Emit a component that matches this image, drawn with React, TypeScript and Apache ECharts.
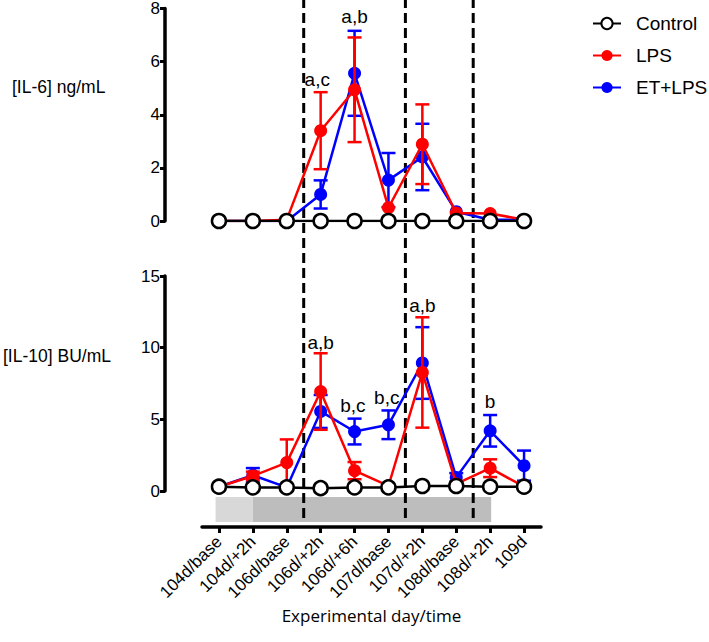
import React, { useEffect, useRef } from "react";
import * as echarts from "echarts";

const categories = ["104d/base", "104d/+2h", "106d/base", "106d/+2h", "106d/+6h", "107d/base", "107d/+2h", "108d/base", "108d/+2h", "109d"];

// IL-6 panel (ng/mL)
const il6Control = [0, 0, 0, 0, 0, 0, 0, 0, 0, 0];
const il6LPS = [0, 0, 0.05, 3.4, 4.94, 0.5, 2.89, 0.3, 0.28, 0.05];
const il6LPSErr = [0, 0, 0, 1.45, 1.97, 0, 1.5, 0, 0, 0];
const il6ET = [0, 0, 0, 1.0, 5.56, 1.54, 2.41, 0.35, 0.05, 0.05];
const il6ETErr = [0, 0, 0, 0.53, 1.6, 1.02, 1.25, 0, 0, 0];

// IL-10 panel (BU/mL)
const il10Control = [0.3, 0.25, 0.25, 0.2, 0.25, 0.25, 0.35, 0.35, 0.3, 0.3];
const il10LPS = [0.3, 1.05, 1.98, 6.94, 1.42, 0.35, 8.27, 0.5, 1.59, 0.3];
const il10LPSErr = [0, 0.3, 1.62, 2.67, 0.6, 0, 3.85, 0, 0.62, 0];
const il10ET = [0.3, 1.1, 0.25, 5.55, 4.15, 4.62, 8.93, 0.95, 4.2, 1.77];
const il10ETErr = [0, 0.5, 0, 1.15, 0.9, 1.0, 2.5, 0.3, 1.1, 1.05];

// significance annotations: [category index, value at text centre, text]
const il6Notes: [number, number, string][] = [
  [2.9, 5.32, "a,c"],
  [4, 7.69, "a,b"],
];
const il10Notes: [number, number, string][] = [
  [3, 10.35, "a,b"],
  [3.95, 6.0, "b,c"],
  [4.95, 6.5, "b,c"],
  [6, 12.94, "a,b"],
  [8, 6.22, "b"],
];

// dashed separators (between categories), in category units
const dividers = [2.5, 5.5, 7.5];
const dividerTop = 34.4; // IL-10 units (top of page)
const dividerBottom = -2.2;

// treatment bands below the IL-10 panel: [start, end, shade]
const bands: [number, number, number][] = [
  [-0.1, 1, 0],
  [1, 8.03, 1],
];
const bandTop = -0.42;
const bandBottom = -2.17;
const bandColors = ["#d8d8d8", "#bdbdbd"];

const il6Ticks = { min: 0, max: 8, interval: 2 };
const il10Ticks = { min: 0, max: 15, interval: 5 };

const RED = "#ff0000";
const BLUE = "#0000ff";
const FONT = "Liberation Sans";

function errorSeries(name: string, vals: number[], errs: number[], color: string, gi: number) {
  const data = vals
    .map((v, i) => [i, v - errs[i], v + errs[i], errs[i]])
    .filter((d) => d[3] > 0);
  return {
    type: "custom",
    name: name + "-err",
    xAxisIndex: gi,
    yAxisIndex: gi,
    data,
    silent: true,
    z: 3,
    renderItem: (params: any, api: any) => {
      const x = api.value(0);
      const lo = api.coord([x, api.value(1)]);
      const hi = api.coord([x, api.value(2)]);
      const w = 7;
      const style = { stroke: color, lineWidth: 2.5 };
      return {
        type: "group",
        children: [
          { type: "line", shape: { x1: hi[0], y1: hi[1], x2: lo[0], y2: lo[1] }, style },
          { type: "line", shape: { x1: hi[0] - w, y1: hi[1], x2: hi[0] + w, y2: hi[1] }, style },
          { type: "line", shape: { x1: lo[0] - w, y1: lo[1], x2: lo[0] + w, y2: lo[1] }, style },
        ],
      };
    },
  };
}

function lineSeries(name: string, vals: number[], color: string, gi: number, z: number) {
  const isControl = name === "Control";
  return {
    type: "line",
    name,
    xAxisIndex: gi,
    yAxisIndex: gi,
    data: vals,
    symbol: "circle",
    symbolSize: isControl ? 14 : 13,
    z,
    lineStyle: { color, width: 2.5 },
    itemStyle: isControl
      ? { color: "#ffffff", borderColor: "#000000", borderWidth: 2.5 }
      : { color, borderWidth: 0 },
    emphasis: { disabled: true },
  };
}

function noteSeries(notes: [number, number, string][], gi: number) {
  return {
    type: "scatter",
    xAxisIndex: gi === 0 ? 3 : 2,
    yAxisIndex: gi,
    symbolSize: 0,
    silent: true,
    z: 6,
    itemStyle: { opacity: 1 },
    data: notes.map((n) => ({ value: [n[0], n[1]], name: n[2] })),
    label: {
      show: true,
      position: "inside",
      formatter: (p: any) => p.name,
      color: "#000",
      opacity: 1,
      textBorderWidth: 0,
      fontSize: 19,
      fontFamily: FONT,
    },
  };
}

function yAxisCfg(gi: number, ticks: { min: number; max: number; interval: number }) {
  return {
    type: "value",
    gridIndex: gi,
    min: ticks.min,
    max: ticks.max,
    interval: ticks.interval,
    offset: 37,
    axisLine: { show: true, onZero: false, lineStyle: { color: "#000", width: 3.5 } },
    axisTick: { show: true, length: 5, lineStyle: { color: "#000", width: 3 } },
    axisLabel: { color: "#000", fontSize: 17, fontFamily: FONT, margin: 5 },
    splitLine: { show: false },
  };
}

export default function App() {
  const ref = useRef<HTMLDivElement>(null);
  useEffect(() => {
    if (!ref.current) return;
    const chart = echarts.init(ref.current, undefined, { renderer: "svg" });
    const option: any = {
      animation: false,
      backgroundColor: "#ffffff",
      legend: {
        orient: "vertical",
        left: 587,
        top: 9,
        itemWidth: 28,
        itemHeight: 14,
        itemGap: 13,
        data: ["Control", "LPS", "ET+LPS"],
        textStyle: { color: "#000", fontSize: 19, fontFamily: FONT, padding: [0, 0, 0, 10] },
        selectedMode: false,
      },
      grid: [
        { left: 202, width: 339, top: 8, height: 213 },
        { left: 202, width: 339, top: 276, height: 215 },
      ],
      xAxis: [
        {
          type: "category",
          gridIndex: 0,
          data: categories,
          axisLine: { show: false, onZero: false },
          axisTick: { show: false },
          axisLabel: { show: false },
          splitLine: { show: false },
        },
        {
          type: "category",
          gridIndex: 1,
          data: categories,
          offset: 36,
          axisLine: { show: true, onZero: false, lineStyle: { color: "#000", width: 3.5 } },
          axisTick: { show: true, alignWithLabel: true, length: 6, lineStyle: { color: "#000", width: 3 } },
          axisLabel: { color: "#000", fontSize: 17, fontFamily: FONT, rotate: 45, margin: 12, interval: 0 },
          splitLine: { show: false },
          name: "Experimental day/time",
          nameLocation: "middle",
          nameGap: 80,
          nameTextStyle: { color: "#000", fontSize: 17, fontFamily: "Open Sans" },
        },
        { type: "value", gridIndex: 1, min: -0.5, max: 9.5, show: false, axisLine: { onZero: false } },
        { type: "value", gridIndex: 0, min: -0.5, max: 9.5, show: false, axisLine: { onZero: false } },
      ],
      yAxis: [yAxisCfg(0, il6Ticks), yAxisCfg(1, il10Ticks)],
      graphic: [
        { type: "text", left: 12, top: 78, style: { text: "[IL-6] ng/mL", font: `17.5px "${FONT}"`, fill: "#000" } },
        { type: "text", left: 3, top: 347, style: { text: "[IL-10] BU/mL", font: `17.5px "${FONT}"`, fill: "#000" } },
      ],
      series: [
        {
          type: "custom",
          name: "bands",
          xAxisIndex: 2,
          yAxisIndex: 1,
          clip: false,
          silent: true,
          z: 0,
          data: bands,
          renderItem: (params: any, api: any) => {
            const a = api.coord([api.value(0), bandTop]);
            const b = api.coord([api.value(1), bandBottom]);
            return {
              type: "rect",
              shape: { x: a[0], y: a[1], width: b[0] - a[0], height: b[1] - a[1] },
              style: { fill: bandColors[api.value(2)] },
            };
          },
        },
        {
          type: "custom",
          name: "dividers",
          xAxisIndex: 2,
          yAxisIndex: 1,
          clip: false,
          silent: true,
          z: 1,
          data: dividers.map((d) => [d]),
          renderItem: (params: any, api: any) => {
            const t = api.coord([api.value(0), dividerTop]);
            const b = api.coord([api.value(0), dividerBottom]);
            return {
              type: "line",
              shape: { x1: t[0], y1: t[1], x2: b[0], y2: b[1] },
              style: { stroke: "#000", lineWidth: 3, lineDash: [10, 5] },
            };
          },
        },
        lineSeries("ET+LPS", il6ET, BLUE, 0, 2),
        errorSeries("ET+LPS", il6ET, il6ETErr, BLUE, 0),
        lineSeries("LPS", il6LPS, RED, 0, 4),
        errorSeries("LPS", il6LPS, il6LPSErr, RED, 0),
        lineSeries("Control", il6Control, "#000", 0, 5),
        lineSeries("ET+LPS", il10ET, BLUE, 1, 2),
        errorSeries("ET+LPS", il10ET, il10ETErr, BLUE, 1),
        lineSeries("LPS", il10LPS, RED, 1, 4),
        errorSeries("LPS", il10LPS, il10LPSErr, RED, 1),
        lineSeries("Control", il10Control, "#000", 1, 5),
        noteSeries(il6Notes, 0),
        noteSeries(il10Notes, 1),
      ],
    };
    chart.setOption(option);
    return () => chart.dispose();
  }, []);
  return (
    <div
      ref={ref}
      style={{ position: "fixed", left: 0, top: 0, width: 709, height: 642, background: "#fff" }}
    />
  );
}
